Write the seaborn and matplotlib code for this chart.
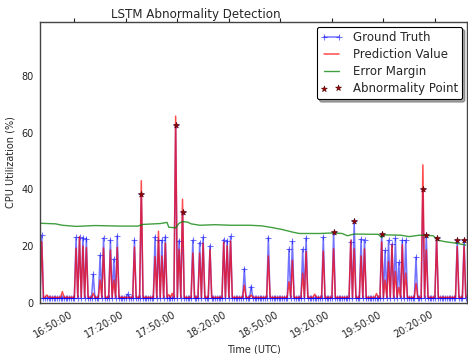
import numpy as np
import pandas as pd
import matplotlib
matplotlib.use("Agg")
import matplotlib.pyplot as plt
import matplotlib.dates as mdates
import seaborn as sns

# ---------------- data ----------------
start_time = "2017-01-01 16:30:00"
n_minutes = 249
gt_base = 1.6
pred_base = 1.9

spike_minutes = [1, 21, 23, 25, 27, 31, 35, 37, 41, 43, 45, 51, 55, 59, 67,
                 69, 71, 73, 79, 81, 83, 89, 93, 95, 99, 107, 109, 111, 119, 123,
                 133, 145, 147, 153, 155, 165, 171, 181, 183, 187, 189, 199, 201, 203, 205,
                 207, 209, 211, 213, 219, 223, 225, 231, 243, 247]
gt_spike = [23.8, 23.0, 23.0, 22.8, 22.6, 10.0, 16.7, 22.8, 22.1, 15.4, 23.5, 3.0, 22.0, 38.5, 23.2,
            22.1, 22.0, 23.2, 62.5, 21.9, 31.9, 22.0, 21.2, 23.0, 20.0, 22.2, 21.8, 23.4, 11.9, 5.7,
            22.9, 18.8, 21.6, 18.8, 22.8, 23.1, 24.8, 21.5, 28.9, 22.4, 22.1, 24.2, 18.4, 22.0, 20.6,
            22.7, 14.2, 22.0, 22.0, 16.0, 40.1, 23.9, 22.7, 22.1, 22.1]
pred_spike = [21.5, 19.2, 23.3, 20.0, 19.4, 3.3, 8.0, 19.3, 18.6, 8.0, 19.5, 1.8, 19.6, 43.0, 16.2,
              25.2, 16.5, 21.0, 65.8, 18.8, 36.5, 17.5, 17.5, 21.0, 18.8, 21.3, 20.0, 21.7, 6.2, 2.7,
              16.5, 7.4, 15.0, 10.4, 18.0, 18.2, 19.0, 22.1, 19.0, 16.5, 19.0, 21.5, 8.0, 14.5, 20.5,
              11.0, 5.4, 20.4, 10.4, 6.8, 48.6, 18.6, 22.7, 19.8, 19.8]
pred_bump_minutes = [4, 13, 75, 77, 160, 196]
pred_bump_values = [2.7, 3.9, 2.8, 3.3, 3.0, 3.2]

margin_minutes = [0, 9, 13, 21, 32, 47, 57, 60, 70, 74, 75, 79, 81, 83, 86, 88, 93, 102, 111,
                  122, 129, 135, 141, 147, 151, 163, 171, 176, 179, 183, 197, 199, 201, 210,
                  215, 221, 229, 232, 236, 242, 248]
margin_values = [28.0, 27.8, 27.3, 26.9, 27.2, 27.0, 27.0, 27.6, 27.9, 28.3, 26.6, 26.4, 28.0,
                 28.6, 28.4, 27.8, 27.3, 27.5, 27.3, 27.3, 27.1, 26.5, 25.8, 24.9, 24.4, 24.4,
                 24.6, 24.4, 23.6, 24.2, 24.1, 23.0, 23.9, 23.8, 23.3, 23.8, 23.6, 22.0, 21.5,
                 21.0, 20.3]

anomaly_minutes = [59, 79, 83, 171, 183, 199, 223, 225, 231, 243, 247]

tick_format = "%H:%M:%S"
y_ticks = [0, 20, 40, 60, 80]

# ---------------- build series ----------------
times = pd.date_range(start_time, periods=n_minutes, freq="min")
gt = np.full(n_minutes, gt_base)
gt[spike_minutes] = gt_spike
pred = np.full(n_minutes, pred_base)
pred[pred_bump_minutes] = pred_bump_values
pred[spike_minutes] = pred_spike
margin_times = times[margin_minutes]
anom_times = times[anomaly_minutes]
anom_vals = gt[anomaly_minutes]

# ---------------- style ----------------
sns.set_style("white")
plt.rcParams["font.family"] = ["DejaVu Sans"]

fig = plt.figure(figsize=(4.68, 3.54), dpi=100)
ax = fig.add_axes([0.0855, 0.145, 0.912, 0.793])

sns.lineplot(x=times, y=gt, ax=ax, color="blue", alpha=0.55, lw=1.1,
             marker="+", markersize=5, markeredgewidth=0.8, markeredgecolor="blue",
             label="Ground Truth")
sns.lineplot(x=times, y=pred, ax=ax, color="red", alpha=0.7, lw=1.1,
             label="Prediction Value")
sns.lineplot(x=margin_times, y=margin_values, ax=ax, color="green", alpha=0.75, lw=1.0,
             label="Error Margin")
sns.scatterplot(x=anom_times, y=anom_vals, ax=ax, marker="*", s=20,
                color="#a00000", edgecolor="#500000", linewidth=0.4,
                label="Abnormality Point", zorder=5)

ax.set_xlim(times[0], times[-1] + pd.Timedelta(seconds=36))
ax.set_ylim(0, 99)
ax.set_yticks(y_ticks)
ax.xaxis.set_major_locator(mdates.MinuteLocator(byminute=[20, 50]))
ax.xaxis.set_major_formatter(mdates.DateFormatter(tick_format))
for lbl in ax.get_xticklabels():
    lbl.set_rotation(30)
    lbl.set_ha("right")

ax.tick_params(axis="both", which="major", labelsize=7, length=3, width=0.8,
               direction="out", pad=1.5, colors="#222222",
               top=True, right=True)

for s in ax.spines.values():
    s.set_color("#444444")
    s.set_linewidth(1.0)
    s.set_visible(True)

ax.set_xlabel("Time (UTC)", fontsize=7)
ax.set_ylabel("CPU Utilization (%)", fontsize=7)
ax.set_title("LSTM Abnormality Detection", fontsize=8.6, x=0.366, pad=3)

leg = ax.legend(loc="upper right", numpoints=2, scatterpoints=2, fancybox=True,
                shadow=True, fontsize=8.5, frameon=True, edgecolor="black",
                framealpha=1, borderaxespad=0.4, handlelength=1.8,
                handletextpad=0.9, labelspacing=0.35, borderpad=0.35)
leg.get_frame().set_linewidth(0.8)

fig.savefig("out.png", dpi=100)
